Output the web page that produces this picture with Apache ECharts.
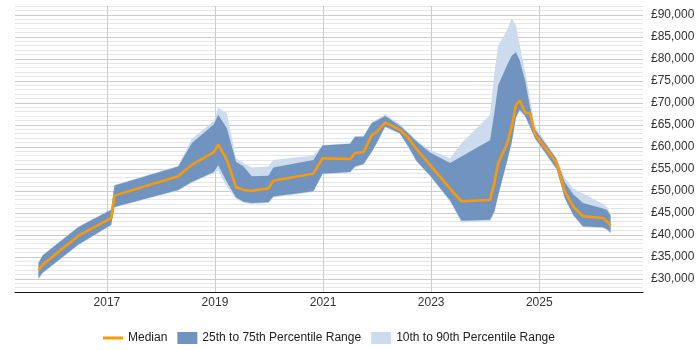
<!DOCTYPE html>
<html>
<head>
<meta charset="utf-8">
<script src="https://cdn.jsdelivr.net/npm/echarts@6/dist/echarts.min.js"></script>
<style>
  html, body { margin: 0; padding: 0; background: #fff; }
  #chart { width: 700px; height: 350px; }
</style>
</head>
<body>
<div id="chart"></div>
<script>
// decimal years for each sample
const years = [2015.735, 2015.81, 2016.475, 2017.08, 2017.14, 2018.32, 2018.57, 2018.98, 2019.06, 2019.22,
  2019.39, 2019.53, 2019.68, 2019.99, 2020.08, 2020.82, 2020.99, 2021.50, 2021.59, 2021.75,
  2021.90, 2021.99, 2022.15, 2022.42, 2022.58, 2022.73, 2022.98, 2023.35, 2023.56, 2024.09,
  2024.17, 2024.24, 2024.40, 2024.49, 2024.57, 2024.64, 2024.74, 2024.83, 2024.92, 2025.32,
  2025.47, 2025.63, 2025.81, 2026.18, 2026.25, 2026.32]
const median = [31900, 33200, 39800, 43800, 48900, 53300, 55900, 58800, 60500, 57100,
  50800, 50200, 50000, 50500, 52300, 53900, 57400, 57200, 58600, 58800,
  62600, 63300, 65500, 63900, 62000, 59500, 55900, 50500, 47600, 47900,
  51800, 56300, 60500, 64600, 69500, 70500, 67800, 67600, 62900, 56400,
  50000, 46400, 44200, 43800, 43100, 42100]
const p25 = [30100, 31400, 37800, 42300, 46300, 50200, 52000, 54300, 55800, 52000,
  48500, 47500, 47200, 47400, 48700, 49900, 53900, 54300, 55500, 56100,
  58900, 60800, 64600, 63100, 60000, 56800, 53500, 47800, 43200, 43400,
  45300, 49000, 56500, 61000, 66800, 68400, 67000, 64600, 62000, 55000,
  48500, 44500, 41900, 41700, 41300, 40500]
const p75 = [33600, 35300, 41800, 45700, 51200, 55500, 60800, 65100, 67300, 64200,
  56600, 55500, 53300, 53400, 55300, 57000, 60300, 60700, 62300, 62300,
  65400, 65900, 67000, 64800, 63000, 61200, 58700, 56300, 57800, 61500,
  67800, 74000, 78400, 80700, 81500, 79600, 75000, 69000, 64000, 57200,
  52000, 49200, 47200, 46000, 45700, 44400]
const p10 = [29800, 31200, 37700, 42100, 46200, 50000, 51800, 54100, 54500, 51000,
  48200, 47300, 47000, 47200, 48500, 49700, 53700, 54100, 55300, 55900,
  58700, 60600, 64400, 62900, 59800, 56600, 53300, 47500, 42800, 43100,
  45000, 48700, 56300, 60500, 66500, 68000, 66800, 64300, 61800, 54800,
  48300, 44300, 41700, 41500, 41100, 40300]
const p90 = [33700, 35400, 41900, 45800, 51300, 55700, 61800, 65900, 68900, 67600,
  57400, 56300, 55300, 55500, 57000, 58000, 60400, 60800, 62400, 62500,
  65600, 66200, 67400, 65100, 63300, 61500, 59300, 57400, 60800, 67200,
  76700, 83000, 86400, 89200, 87500, 83100, 77000, 71000, 64600, 57500,
  53000, 50500, 49400, 47000, 46400, 44800]

const yearTicks = [2017, 2019, 2021, 2023, 2025]
const moneyTicks = [30000, 35000, 40000, 45000, 50000, 55000, 60000, 65000, 70000, 75000, 80000, 85000, 90000]

const darkBlue = '#7094bf'
const lightBlue = '#ccdcee'
const orange = '#ff9900'

const chart = echarts.init(document.getElementById('chart'))

// one filled polygon between a lower and an upper percentile line
function band(name, lower, upper, color) {
  return {
    name: name,
    type: 'custom',
    silent: true,
    itemStyle: { color: color },
    data: [[years[0], lower[0]]],
    renderItem: function (params, api) {
      let pts = []
      for (let i = 0; i < years.length; i++) {
        pts.push(api.coord([years[i], upper[i]]))
      }
      for (let i = years.length - 1; i >= 0; i--) {
        pts.push(api.coord([years[i], lower[i]]))
      }
      return {
        type: 'polygon',
        shape: { points: pts },
        style: { fill: color }
      }
    }
  }
}

chart.setOption({
  animation: false,
  textStyle: { fontFamily: 'Liberation Sans, Arial, sans-serif' },
  grid: { left: 15, right: 57, top: 6, bottom: 58 },
  legend: {
    left: 98,
    top: 327,
    itemWidth: 20,
    itemHeight: 12,
    itemGap: 10,
    textStyle: { fontSize: 12, color: '#222' },
    data: [
      { name: 'Median', icon: 'path://M0,0 H20 V3 H0 Z' },
      { name: '25th to 75th Percentile Range', icon: 'rect' },
      { name: '10th to 90th Percentile Range', icon: 'rect' }
    ]
  },
  xAxis: {
    type: 'value',
    min: 2015.3,
    max: 2026.92,
    axisLine: { lineStyle: { color: '#111', width: 1 } },
    axisTick: { show: false, customValues: yearTicks },
    axisLabel: {
      customValues: yearTicks,
      margin: 5,
      fontSize: 12,
      color: '#333',
      formatter: v => String(Math.round(v))
    },
    splitLine: { show: true, lineStyle: { color: '#cccccc', width: 1 } }
  },
  yAxis: {
    type: 'value',
    position: 'right',
    min: 27000,
    max: 92000,
    interval: 1000,
    axisLine: { show: false },
    axisTick: { show: false },
    axisLabel: {
      customValues: moneyTicks,
      margin: 8,
      fontSize: 12,
      color: '#333',
      formatter: v => '£' + v.toLocaleString('en-GB')
    },
    splitLine: {
      lineStyle: { color: ['#e6e6e6', '#e6e6e6', '#e6e6e6', '#cccccc', '#e6e6e6'], width: 1 }
    }
  },
  series: [
    band('10th to 90th Percentile Range', p10, p90, lightBlue),
    band('25th to 75th Percentile Range', p25, p75, darkBlue),
    {
      name: 'Median',
      type: 'line',
      data: years.map((y, i) => [y, median[i]]),
      showSymbol: false,
      itemStyle: { color: orange },
      lineStyle: { color: orange, width: 2.5 }
    }
  ]
})
</script>
</body>
</html>
